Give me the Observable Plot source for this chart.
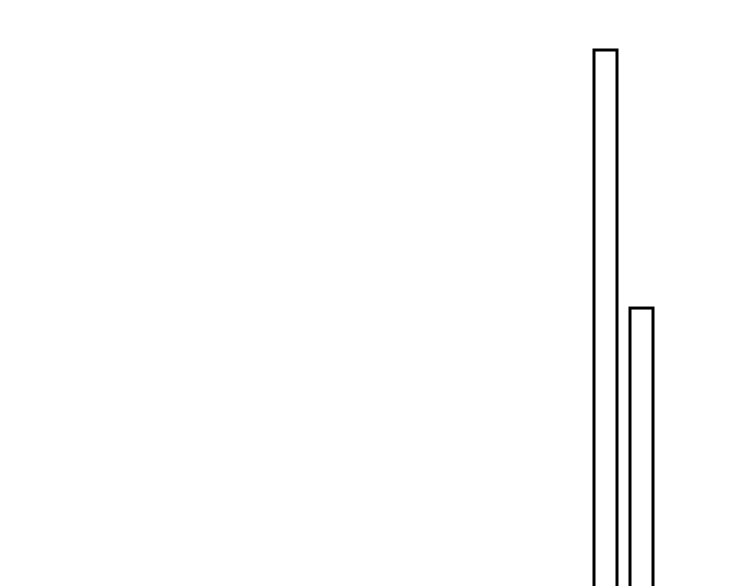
<!DOCTYPE html>
<html>
<head>
<meta charset="utf-8">
<script src="https://cdn.jsdelivr.net/npm/d3@7"></script>
<script src="https://cdn.jsdelivr.net/npm/@observablehq/plot@0.6"></script>
<style>
  html, body { margin: 0; padding: 0; background: #fff; overflow: hidden; }
  svg { display: block; }
</style>
</head>
<body>
<div id="chart"></div>
<script>
const categories = ["A", "B"];
const values = [100, 60.3];

const data = categories.map((c, i) => ({ category: c, value: values[i] }));

const chart = Plot.plot({
  width: 750,
  height: 720,
  marginLeft: 580,
  marginRight: 84,
  marginTop: 50,
  marginBottom: 20,
  x: { domain: categories, padding: 0.375, axis: null },
  y: { domain: [0, 100], axis: null },
  marks: [
    Plot.barY(data, {
      x: "category",
      y: "value",
      fill: "white",
      stroke: "black",
      strokeWidth: 3
    })
  ]
});
document.getElementById("chart").appendChild(chart);
</script>
</body>
</html>
